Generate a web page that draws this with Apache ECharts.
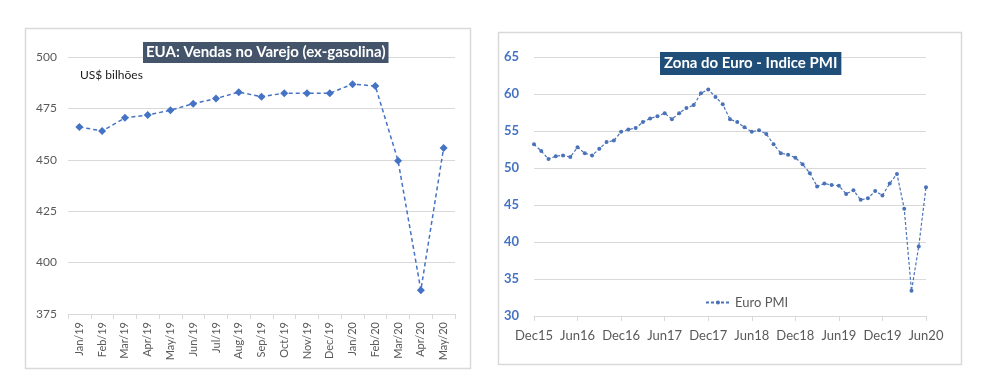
<!DOCTYPE html>
<html>
<head>
<meta charset="utf-8">
<script src="https://cdn.jsdelivr.net/npm/echarts@6/dist/echarts.min.js"></script>
<style>
html,body{margin:0;padding:0;background:#fff;}
#c{width:987px;height:391px;}
</style>
</head>
<body>
<div id="c"></div>
<script>
// Left chart: US retail sales ex-gasoline (US$ billions)
const usCategories = ['Jan/19','Feb/19','Mar/19','Apr/19','May/19','Jun/19','Jul/19','Aug/19','Sep/19','Oct/19','Nov/19','Dec/19','Jan/20','Feb/20','Mar/20','Apr/20','May/20'];
const usSales = [466, 464, 470.4, 471.8, 474.1, 477.3, 479.8, 482.9, 480.7, 482.4, 482.4, 482.4, 486.8, 485.9, 449.5, 386.6, 455.8];
const usTicks = [375, 400, 425, 450, 475, 500];

// Right chart: Euro area PMI
const euCategories = ['Dec15','Jan16','Feb16','Mar16','Apr16','May16','Jun16','Jul16','Aug16','Sep16','Oct16','Nov16',
  'Dec16','Jan17','Feb17','Mar17','Apr17','May17','Jun17','Jul17','Aug17','Sep17','Oct17','Nov17',
  'Dec17','Jan18','Feb18','Mar18','Apr18','May18','Jun18','Jul18','Aug18','Sep18','Oct18','Nov18',
  'Dec18','Jan19','Feb19','Mar19','Apr19','May19','Jun19','Jul19','Aug19','Sep19','Oct19','Nov19',
  'Dec19','Jan20','Feb20','Mar20','Apr20','May20','Jun20'];
const euPMI = [53.2, 52.3, 51.2, 51.6, 51.7, 51.5, 52.8, 52.0, 51.7, 52.6, 53.5, 53.7,
  54.9, 55.2, 55.4, 56.2, 56.7, 57.0, 57.4, 56.6, 57.4, 58.1, 58.5, 60.1,
  60.6, 59.6, 58.6, 56.6, 56.2, 55.5, 54.9, 55.1, 54.6, 53.2, 52.0, 51.8,
  51.4, 50.5, 49.3, 47.5, 47.9, 47.7, 47.6, 46.5, 47.0, 45.7, 45.9, 46.9,
  46.3, 47.9, 49.2, 44.5, 33.4, 39.4, 47.4];
const euTicks = [30, 35, 40, 45, 50, 55, 60, 65];

const FONT = 'Lato, "Open Sans", sans-serif';
const chart = echarts.init(document.getElementById('c'), null, {renderer: 'canvas'});
chart.setOption({
  backgroundColor: '#ffffff',
  animation: false,
  textStyle: {fontFamily: FONT},
  graphic: [
    {type: 'rect', shape: {x: 25.5, y: 28.5, width: 445, height: 340}, style: {fill: 'none', stroke: '#d9d9d9', lineWidth: 1.5}, silent: true, z: -1},
    {type: 'rect', shape: {x: 498.5, y: 32.5, width: 463, height: 332}, style: {fill: 'none', stroke: '#d9d9d9', lineWidth: 1.5}, silent: true, z: -1},
    {type: 'text', left: 80, top: 69, style: {text: 'US$ bilhões', fill: '#1a1a1a', font: '12px ' + FONT}}
  ],
  title: [
    {text: 'EUA: Vendas no Varejo (ex-gasolina)', left: 143, top: 42,
     backgroundColor: '#44546a', padding: [3, 3, 3, 3],
     textStyle: {color: '#ffffff', fontSize: 15, fontWeight: 'bold', fontFamily: FONT}},
    {text: 'Zona do Euro - Indice PMI', left: 660, top: 52,
     backgroundColor: '#1f4e79', padding: [4, 4, 4, 4],
     textStyle: {color: '#ffffff', fontSize: 15, fontWeight: 'bold', fontFamily: FONT}}
  ],
  legend: {
    data: ['Euro PMI'], left: 700, top: 291, itemWidth: 24, itemHeight: 5,
    textStyle: {color: '#595959', fontSize: 13, fontFamily: FONT}
  },
  grid: [
    {left: 68, right: 532, top: 57, bottom: 77},
    {left: 534, right: 61, top: 57, bottom: 75}
  ],
  xAxis: [
    {type: 'category', gridIndex: 0, data: usCategories, boundaryGap: true,
     axisLine: {lineStyle: {color: '#d9d9d9'}},
     axisTick: {show: true, lineStyle: {color: '#d9d9d9'}, length: 5},
     axisLabel: {rotate: 90, color: '#595959', fontSize: 11, margin: 8, interval: 0, fontFamily: FONT}},
    {type: 'category', gridIndex: 1, data: euCategories, boundaryGap: false,
     axisLine: {lineStyle: {color: '#d9d9d9'}},
     axisTick: {show: true, interval: 5, lineStyle: {color: '#d9d9d9'}, length: 5},
     axisLabel: {interval: 5, color: '#595959', fontSize: 13, margin: 13, fontFamily: FONT}}
  ],
  yAxis: [
    {type: 'value', gridIndex: 0, min: usTicks[0], max: usTicks[usTicks.length - 1], interval: 25,
     axisLine: {show: false}, axisTick: {show: false},
     splitLine: {lineStyle: {color: '#d9d9d9', width: 1}},
     axisLabel: {color: '#595959', fontSize: 12, margin: 11, fontFamily: FONT}},
    {type: 'value', gridIndex: 1, min: euTicks[0], max: euTicks[euTicks.length - 1], interval: 5,
     axisLine: {show: false}, axisTick: {show: false},
     splitLine: {lineStyle: {color: '#d9d9d9', width: 1}},
     axisLabel: {color: '#4472c4', fontSize: 13, fontWeight: 'bold', margin: 15, fontFamily: FONT}}
  ],
  series: [
    {name: 'Vendas', type: 'line', xAxisIndex: 0, yAxisIndex: 0, data: usSales,
     symbol: 'diamond', symbolSize: 8, showAllSymbol: true,
     lineStyle: {color: '#4472c4', width: 1.5, type: [4, 3]},
     itemStyle: {color: '#4472c4'}},
    {name: 'Euro PMI', type: 'line', xAxisIndex: 1, yAxisIndex: 1, data: euPMI,
     symbol: 'circle', symbolSize: 4, showAllSymbol: true,
     lineStyle: {color: '#4a72b8', width: 1.2, type: [3, 2]},
     itemStyle: {color: '#4a72b8'}}
  ]
});
</script>
</body>
</html>
